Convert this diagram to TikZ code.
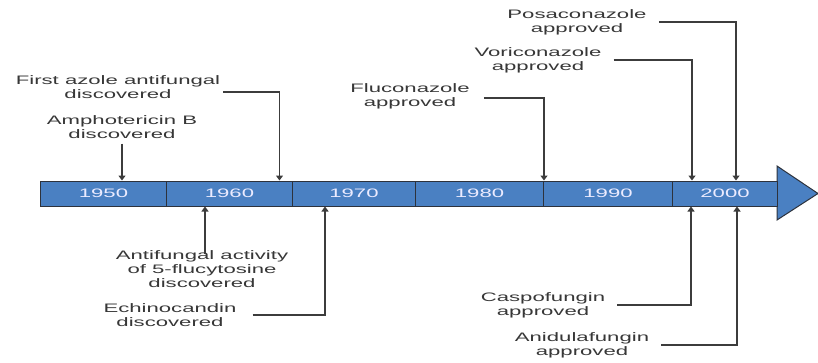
\documentclass[tikz,border=0pt]{standalone}
\usepackage{fontspec}
\setmainfont[FakeStretch=1.8]{Liberation Sans}
\usetikzlibrary{arrows.meta}
\definecolor{barblue}{RGB}{74,128,194}
\definecolor{bord}{RGB}{45,50,60}
\definecolor{txt}{RGB}{55,55,55}
\definecolor{ln}{RGB}{60,60,60}
\tikzset{
  lbl/.style={align=center, text=txt, font=\fontsize{12.3}{14}\selectfont, inner sep=0pt},
  conn/.style={draw=ln, line width=1.3pt, -{Triangle[width=7pt,length=5pt]}},
  cell/.style={draw=bord, line width=1pt, fill=barblue, minimum height=25pt, inner sep=0pt, anchor=west,
    text=white!92!blue, font=\fontsize{12.3}{14}\selectfont}
}
\begin{document}
\begin{tikzpicture}[x=1pt,y=-1pt]
\useasboundingbox (0,0) rectangle (818,362);
% arrow head
\draw[fill=barblue, draw=bord, line width=1pt] (777,166) -- (818,193.5) -- (777,220) -- cycle;
% cells
\node[cell, minimum width=126pt] (c1) at (40,193.5) {1950};
\node[cell, minimum width=126pt] (c2) at (166,193.5) {1960};
\node[cell, minimum width=123pt] (c3) at (292,193.5) {1970};
\node[cell, minimum width=128pt] (c4) at (415,193.5) {1980};
\node[cell, minimum width=129pt] (c5) at (543,193.5) {1990};
\node[cell, minimum width=105pt] (c6) at (672,193.5) {2000};
% labels above
\node[lbl] (amph) at (122,127) {Amphotericin B\\discovered};
\node[lbl] (azole) at (118,87) {First azole antifungal\\discovered};
\node[lbl] (fluco) at (410,96) {Fluconazole\\approved};
\node[lbl] (vori) at (538,60) {Voriconazole\\approved};
\node[lbl] (posa) at (577,22) {Posaconazole\\approved};
% labels below
\node[lbl] (flucy) at (202,269) {Antifungal activity\\of 5-flucytosine\\discovered};
\node[lbl] (echino) at (170,315) {Echinocandin\\discovered};
\node[lbl] (caspo) at (543,305) {Caspofungin\\approved};
\node[lbl] (anidu) at (582,345) {Anidulafungin\\approved};
% connectors above
\draw[conn] ([yshift=-5pt]amph.south) -- (amph.south |- c1.north);
\draw[conn] ([xshift=3pt,yshift=-5pt]azole.east) -| ([xshift=50pt]c2.north);
\draw[conn] ([xshift=14pt,yshift=-2pt]fluco.east) -| (c4.north east);
\draw[conn] ([xshift=12pt]vori.east) -| ([xshift=20pt]c6.north west);
\draw[conn] ([xshift=12pt]posa.east) -| ([xshift=64pt]c6.north west);
% connectors below
\draw[conn] ([xshift=3pt,yshift=-4pt]flucy.north) -- ([xshift=39pt]c2.south west);
\draw[conn] ([xshift=16pt]echino.east) -| ([xshift=33pt]c3.south west);
\draw[conn] ([xshift=12pt]caspo.east) -| ([xshift=19pt]c6.south west);
\draw[conn] ([xshift=12pt]anidu.east) -| ([xshift=65pt]c6.south west);
\end{tikzpicture}
\end{document}
